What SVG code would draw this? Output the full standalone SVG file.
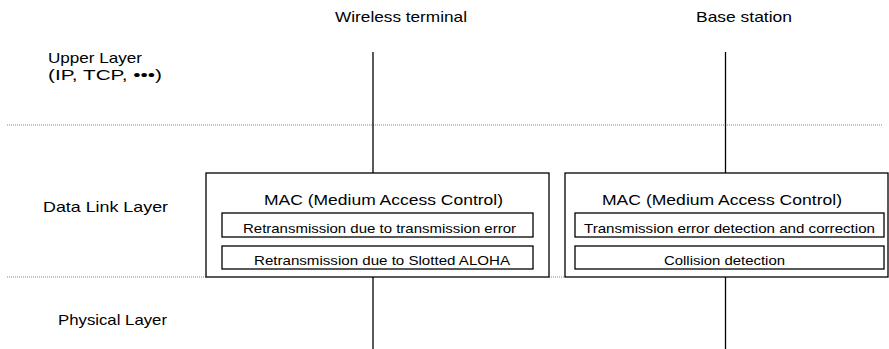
<svg xmlns="http://www.w3.org/2000/svg" width="889" height="349" viewBox="0 0 889 349">
<style>
text{font-family:"Liberation Sans",Arial,sans-serif;fill:#000;}
.lbl{font-size:15px;}
.mac{font-size:15px;text-anchor:middle;}
.sub{font-size:13px;text-anchor:middle;}
.box{fill:#fff;stroke:#000;stroke-width:1.3;}
.dot{stroke:#888;stroke-width:1;stroke-dasharray:1 1;fill:none;}
.ln{stroke:#000;stroke-width:1.3;fill:none;}
</style>
<rect width="889" height="349" fill="#fff"/>
<g id="layers">
<line class="dot" x1="7" y1="125" x2="882" y2="125"/>
<line class="dot" x1="7" y1="277" x2="206" y2="277"/>
<line class="dot" x1="549" y1="277" x2="565" y2="277"/>
<text class="lbl" x="48" y="63" textLength="94" lengthAdjust="spacingAndGlyphs">Upper Layer</text>
<text class="lbl" x="48" y="80" textLength="114" lengthAdjust="spacingAndGlyphs">(IP, TCP, •••)</text>
<text class="lbl" x="43" y="212" textLength="125" lengthAdjust="spacingAndGlyphs">Data Link Layer</text>
<text class="lbl" x="58" y="325" textLength="109" lengthAdjust="spacingAndGlyphs">Physical Layer</text>
</g>
<g id="connectors">
<line class="ln" x1="373" y1="52" x2="373" y2="173"/>
<line class="ln" x1="373" y1="237" x2="373" y2="246"/>
<line class="ln" x1="373" y1="269" x2="373" y2="349"/>
<line class="ln" x1="725.5" y1="52" x2="725.5" y2="173"/>
<line class="ln" x1="725.5" y1="237" x2="725.5" y2="246"/>
<line class="ln" x1="725.5" y1="269" x2="725.5" y2="349"/>
</g>
<g id="wireless-terminal">
<text class="lbl" x="335" y="22" textLength="132" lengthAdjust="spacingAndGlyphs">Wireless terminal</text>
<rect class="box" x="206" y="173" width="343" height="104"/>
<text class="mac" x="383.5" y="205" textLength="239" lengthAdjust="spacingAndGlyphs">MAC (Medium Access Control)</text>
<rect class="box" x="222" y="213" width="311" height="24"/>
<text class="sub" x="379.5" y="233" textLength="273" lengthAdjust="spacingAndGlyphs">Retransmission due to transmission error</text>
<rect class="box" x="222" y="246" width="311" height="23"/>
<text class="sub" x="382" y="265" textLength="256" lengthAdjust="spacingAndGlyphs">Retransmission due to Slotted ALOHA</text>
</g>
<g id="base-station">
<text class="lbl" x="696" y="22" textLength="96" lengthAdjust="spacingAndGlyphs">Base station</text>
<rect class="box" x="565" y="173" width="323" height="104"/>
<text class="mac" x="722" y="205" textLength="240" lengthAdjust="spacingAndGlyphs">MAC (Medium Access Control)</text>
<rect class="box" x="575" y="213" width="309" height="24"/>
<text class="sub" x="729.5" y="233" textLength="291" lengthAdjust="spacingAndGlyphs">Transmission error detection and correction</text>
<rect class="box" x="575" y="246" width="309" height="23"/>
<text class="sub" x="724.5" y="265" textLength="121" lengthAdjust="spacingAndGlyphs">Collision detection</text>
</g>
</svg>
